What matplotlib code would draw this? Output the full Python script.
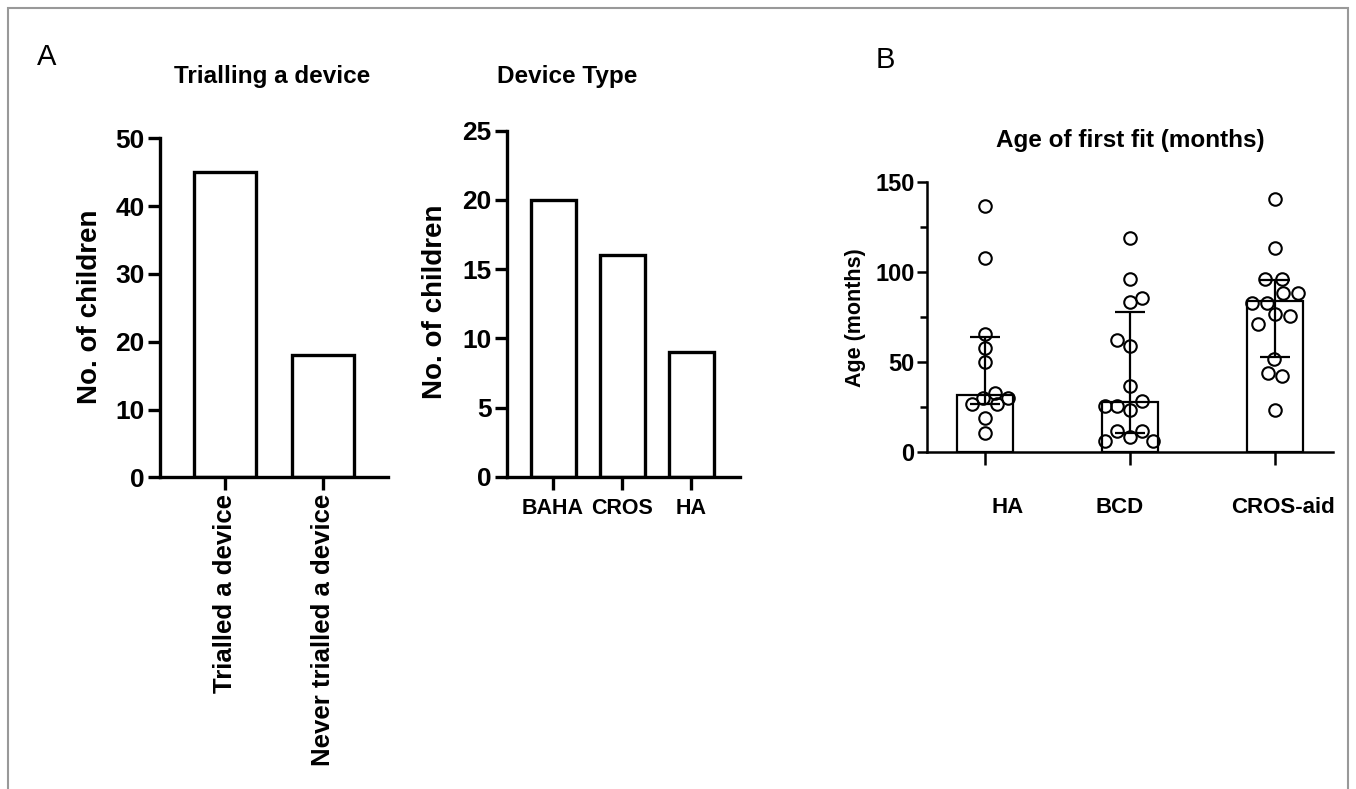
import numpy as np
import matplotlib.pyplot as plt
from matplotlib.patches import Rectangle
from matplotlib.transforms import ScaledTranslation

plt.rcParams['font.family'] = ['Liberation Sans', 'DejaVu Sans']
plt.rcParams['font.weight'] = 'bold'

# Panel A, left: trialling a device
trial_labels = ['Trialled a device', 'Never trialled a device']
trial_counts = [45, 18]

# Panel A, right: device type
type_labels = ['BAHA', 'CROS', 'HA']
type_counts = [20, 16, 9]

# Panel B: age of first fit (months), median with IQR
fit_groups = ['HA', 'BCD', 'CROS-aid']
fit_medians = [32, 28, 84]
fit_q1 = [27, 11, 53]
fit_q3 = [64, 78, 96]
ha_ages = [137, 108, 66, 58, 50, 33, 30, 30, 27, 27, 19, 11]
bcd_ages = [119, 96.5, 85.5, 83.5, 62.5, 59, 37, 28.5, 25.5, 25.5, 23.5, 12, 12, 8.5, 6.5, 6.5]
cros_ages = [140.5, 113.5, 96.5, 96.5, 88.5, 88.5, 83, 83, 77, 75.5, 71.5, 52, 44, 42.5, 23.5]

# horizontal scatter of the points (category units)
ha_jit = [0, 0, 0, 0, 0, 0.07, -0.015, 0.16, -0.09, 0.08, 0, 0]
bcd_jit = [0, 0, 0.083, 0, -0.09, 0, 0, 0.083, -0.172, -0.09, 0, -0.09, 0.083, 0, -0.172, 0.159]
cros_jit = [0, 0, -0.07, 0.05, 0.055, 0.16, -0.16, -0.055, 0, 0.1, -0.12, -0.01, -0.05, 0.05, 0]

fig = plt.figure(figsize=(13.56, 7.89), dpi=100)

# grey frame round the figure
fig.patches.append(Rectangle((8 / 1356, -0.02), 1340 / 1356, 1 - 8 / 789 + 0.02,
                             transform=fig.transFigure, fill=False,
                             edgecolor='#999999', lw=1.5))


def prism_axes(ax, lw):
    ax.spines['top'].set_visible(False)
    ax.spines['right'].set_visible(False)
    ax.spines['left'].set_linewidth(lw)
    ax.spines['bottom'].set_linewidth(lw)
    ax.tick_params(width=lw, length=9)


# --- A left
ax1 = fig.add_axes([160 / 1356, 1 - 477.3 / 789, 228 / 1356, 339 / 789])
ax1.bar(range(len(trial_counts)), trial_counts, width=0.633, color='white',
        edgecolor='black', lw=2.4)
ax1.set_xlim(-0.663, 1.663)
ax1.set_ylim(0, 50)
ax1.set_yticks(range(0, 51, 10))
ax1.set_xticks(range(len(trial_labels)))
ax1.set_xticklabels(trial_labels, rotation=90, fontsize=18.5)
ax1.tick_params(axis='y', labelsize=19, pad=2)
ax1.tick_params(axis='x', pad=3)
prism_axes(ax1, 2.4)

# --- A right
ax2 = fig.add_axes([507 / 1356, 1 - 476.7 / 789, 233 / 1356, 346 / 789])
ax2.bar(range(len(type_counts)), type_counts, width=0.652, color='white',
        edgecolor='black', lw=2.4)
ax2.set_xlim(-0.667, 2.71)
ax2.set_ylim(0, 25)
ax2.set_yticks(range(0, 26, 5))
ax2.set_xticks(range(len(type_labels)))
ax2.set_xticklabels(type_labels, fontsize=15.5)
ax2.tick_params(axis='y', labelsize=19, pad=2)
ax2.tick_params(axis='x', pad=6)
prism_axes(ax2, 2.4)

# --- B
ax3 = fig.add_axes([927 / 1356, 1 - 452.3 / 789, 406 / 1356, 270 / 789])
xs = np.arange(len(fit_groups))
ax3.bar(xs, fit_medians, width=0.386, color='white', edgecolor='black', lw=1.6)
for i, (ages, jit) in enumerate([(ha_ages, ha_jit), (bcd_ages, bcd_jit), (cros_ages, cros_jit)]):
    ax3.plot(i + np.array(jit), ages, 'o', ms=9, mfc='none', mec='black',
             mew=1.5, zorder=3)
yerr = [np.array(fit_medians) - np.array(fit_q1), np.array(fit_q3) - np.array(fit_medians)]
ax3.errorbar(xs, fit_medians, yerr=yerr, fmt='none', ecolor='black',
             elinewidth=1.6, capsize=10.5, capthick=1.6, zorder=4)
ax3.set_xlim(-0.4, 2.4)
ax3.set_ylim(0, 150)
ax3.set_yticks([0, 50, 100, 150])
ax3.set_yticks([25, 75, 125], minor=True)
ax3.set_xticks(xs)
ax3.set_xticklabels(fit_groups, fontsize=16)
prism_axes(ax3, 1.8)
ax3.tick_params(axis='y', labelsize=17, length=7, pad=2)
ax3.tick_params(axis='y', which='minor', width=1.8, length=5)
ax3.tick_params(axis='x', length=9, pad=23)
for lab, dx in zip(ax3.get_xticklabels(), [23, -10, 8]):
    lab.set_transform(lab.get_transform() + ScaledTranslation(dx / 100, 0, fig.dpi_scale_trans))

# titles, axis labels, panel letters
fig.text(272 / 1356, 1 - 77 / 789, 'Trialling a device', ha='center', va='center', fontsize=17.5)
fig.text(567 / 1356, 1 - 77 / 789, 'Device Type', ha='center', va='center', fontsize=17.5)
fig.text(1130 / 1356, 1 - 140 / 789, 'Age of first fit (months)', ha='center', va='center', fontsize=17.5)
fig.text(90 / 1356, 1 - 307 / 789, 'No. of children', rotation=90, ha='center', va='center', fontsize=20)
fig.text(435 / 1356, 1 - 302 / 789, 'No. of children', rotation=90, ha='center', va='center', fontsize=20)
fig.text(855 / 1356, 1 - 318 / 789, 'Age (months)', rotation=90, ha='center', va='center', fontsize=15.5)
fig.text(47 / 1356, 1 - 57 / 789, 'A', ha='center', va='center', fontsize=21, fontweight='normal')
fig.text(885 / 1356, 1 - 60 / 789, 'B', ha='center', va='center', fontsize=21, fontweight='normal')

fig.savefig('out.png', dpi=100)
